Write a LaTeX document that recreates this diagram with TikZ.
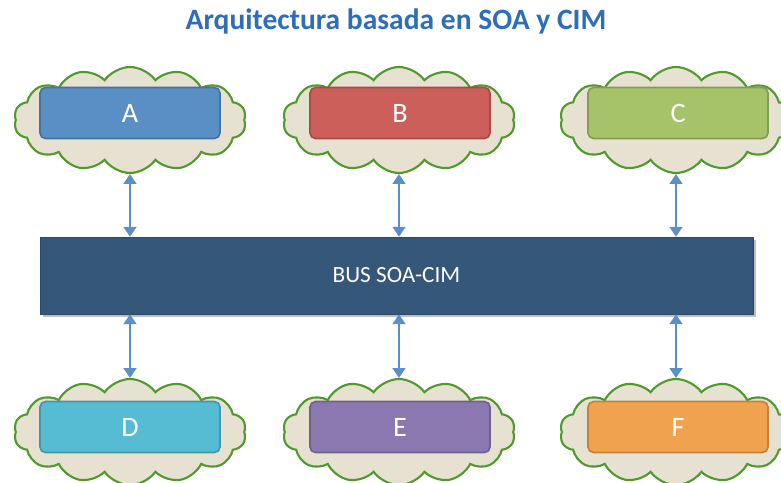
\documentclass[tikz,border=0pt]{standalone}
\usepackage{fontspec}
\setmainfont{Carlito}
\usetikzlibrary{shapes.symbols,arrows.meta,shadows}

\definecolor{titleblue}{HTML}{2E6DB9}
\definecolor{cloudfill}{HTML}{E7E1D2}
\definecolor{cloudline}{HTML}{4F9A2B}
\definecolor{busblue}{HTML}{34577A}
\definecolor{linkblue}{HTML}{5B8FC9}
\definecolor{appA}{HTML}{5A8FC6}
\definecolor{appB}{HTML}{CC5F5A}
\definecolor{appC}{HTML}{A7C36A}
\definecolor{appD}{HTML}{55BCD3}
\definecolor{appE}{HTML}{8C78B0}
\definecolor{appF}{HTML}{F0A24F}

\begin{document}
\begin{tikzpicture}[x=0.025cm,y=-0.025cm,
  cloud node/.style={cloud,cloud puffs=14,cloud puff arc=110,aspect=2.2,draw=cloudline,
    fill=cloudfill,line width=1.5pt,minimum width=5.8cm,minimum height=2.65cm},
  app node/.style={rectangle,rounded corners=4pt,line width=1.2pt,
    minimum width=4.5cm,minimum height=1.275cm,text=white,
    font=\fontsize{20}{24}\selectfont},
  link/.style={{Triangle[width=9pt,length=7pt]}-{Triangle[width=9pt,length=7pt]},
    line width=2pt,draw=linkblue}]

  \useasboundingbox (0,0) rectangle (781,482);

  \node[text=titleblue,font=\fontsize{21}{25}\selectfont\bfseries] (title) at (396,21)
    {Arquitectura basada en SOA y CIM};

  % clouds
  \node[cloud node] (cloudA) at (130,120) {};
  \node[cloud node] (cloudB) at (399,120) {};
  \node[cloud node] (cloudC) at (676,120) {};
  \node[cloud node] (cloudD) at (130,432) {};
  \node[cloud node] (cloudE) at (399,432) {};
  \node[cloud node] (cloudF) at (676,432) {};

  % applications
  \node[app node,fill=appA,draw=appA!80!black] (A) at (130,113) {A};
  \node[app node,fill=appB,draw=appB!80!black] (B) at (400,113) {B};
  \node[app node,fill=appC,draw=appC!80!black] (C) at (678,113) {C};
  \node[app node,fill=appD,draw=appD!80!black] (D) at (130,427) {D};
  \node[app node,fill=appE,draw=appE!80!black] (E) at (400,427) {E};
  \node[app node,fill=appF,draw=appF!80!black] (F) at (678,427) {F};

  % bus
  \node[rectangle,fill=busblue,draw=busblue!85!black,drop shadow,
    minimum width=17.825cm,minimum height=1.925cm,text=white,
    font=\fontsize{16.5}{20}\selectfont] (bus) at (396.5,275.5) {BUS SOA-CIM};

  \draw[link] (cloudA.south) -- (cloudA.south |- bus.north);
  \draw[link] (cloudB.south) -- (cloudB.south |- bus.north);
  \draw[link] (cloudC.south) -- (cloudC.south |- bus.north);
  \draw[link] (cloudD.north) -- (cloudD.north |- bus.south);
  \draw[link] (cloudE.north) -- (cloudE.north |- bus.south);
  \draw[link] (cloudF.north) -- (cloudF.north |- bus.south);
\end{tikzpicture}
\end{document}
